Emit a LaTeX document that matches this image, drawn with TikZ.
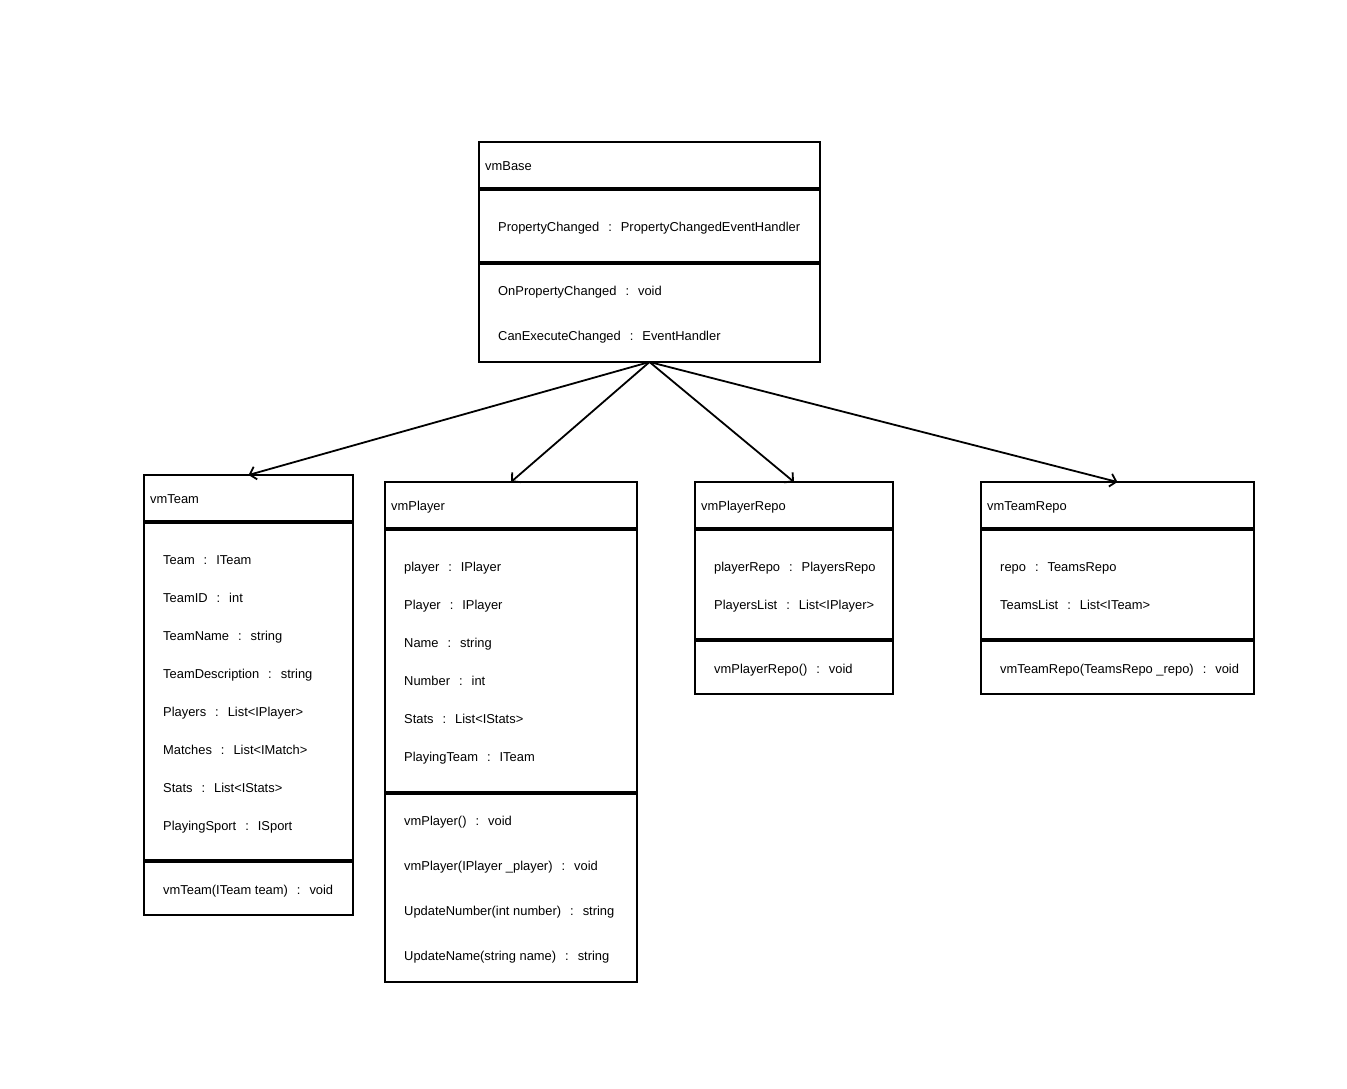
\documentclass[tikz,border=0pt]{standalone}
\usepackage{fontspec}
\setmainfont{Liberation Sans}
\usetikzlibrary{arrows.meta}
% member separator: "name  :  type"
\newcommand{\ofType}{\hspace{9pt}:\hspace{9pt}}
\begin{document}
\begin{tikzpicture}[x=1pt,y=-1pt,
  classbox/.style={draw=black, line width=2pt, fill=white, inner sep=0pt, outer sep=0pt, anchor=north west},
  rule/.style={line width=4pt},
  lbl/.style={anchor=base west, inner sep=0pt, font=\fontsize{12.9}{15}\selectfont},
  inherit/.style={line width=1.8pt, -{Straight Barb[length=6pt,width=13pt,line width=1.8pt]}}]
\useasboundingbox[fill=white] (0,0) rectangle (1347,1088);

% ---- vmBase
\node[classbox, minimum width=341pt, minimum height=220pt] (base) at (479,142) {};
\draw[rule] (479,189) -- (820,189);
\draw[rule] (479,263) -- (820,263);
\node[lbl] (baseT) at (485,170) {vmBase};
\node[lbl] (baseA1) at (498,231) {PropertyChanged\ofType PropertyChangedEventHandler};
\node[lbl] (baseM1) at (498,295) {OnPropertyChanged\ofType void};
\node[lbl] (baseM2) at (498,340) {CanExecuteChanged\ofType EventHandler};

% ---- vmTeam
\node[classbox, minimum width=209pt, minimum height=440pt] (team) at (144,475) {};
\draw[rule] (144,522) -- (353,522);
\draw[rule] (144,861) -- (353,861);
\node[lbl] (teamT) at (150,503) {vmTeam};
\node[lbl] (teamA1) at (163,564) {Team\ofType ITeam};
\node[lbl] (teamA2) at (163,602) {TeamID\ofType int};
\node[lbl] (teamA3) at (163,640) {TeamName\ofType string};
\node[lbl] (teamA4) at (163,678) {TeamDescription\ofType string};
\node[lbl] (teamA5) at (163,716) {Players\ofType List<IPlayer>};
\node[lbl] (teamA6) at (163,754) {Matches\ofType List<IMatch>};
\node[lbl] (teamA7) at (163,792) {Stats\ofType List<IStats>};
\node[lbl] (teamA8) at (163,830) {PlayingSport\ofType ISport};
\node[lbl] (teamM1) at (163,894) {vmTeam(ITeam team)\ofType void};

% ---- vmPlayer
\node[classbox, minimum width=252pt, minimum height=500pt] (player) at (385,482) {};
\draw[rule] (385,529) -- (637,529);
\draw[rule] (385,793) -- (637,793);
\node[lbl] (playerT) at (391,510) {vmPlayer};
\node[lbl] (playerA1) at (404,571) {player\ofType IPlayer};
\node[lbl] (playerA2) at (404,609) {Player\ofType IPlayer};
\node[lbl] (playerA3) at (404,647) {Name\ofType string};
\node[lbl] (playerA4) at (404,685) {Number\ofType int};
\node[lbl] (playerA5) at (404,723) {Stats\ofType List<IStats>};
\node[lbl] (playerA6) at (404,761) {PlayingTeam\ofType ITeam};
\node[lbl] (playerM1) at (404,825) {vmPlayer()\ofType void};
\node[lbl] (playerM2) at (404,870) {vmPlayer(IPlayer \_player)\ofType void};
\node[lbl] (playerM3) at (404,915) {UpdateNumber(int number)\ofType string};
\node[lbl] (playerM4) at (404,960) {UpdateName(string name)\ofType string};

% ---- vmPlayerRepo
\node[classbox, minimum width=198pt, minimum height=212pt] (prepo) at (695,482) {};
\draw[rule] (695,529) -- (893,529);
\draw[rule] (695,640) -- (893,640);
\node[lbl] (prepoT) at (701,510) {vmPlayerRepo};
\node[lbl] (prepoA1) at (714,571) {playerRepo\ofType PlayersRepo};
\node[lbl] (prepoA2) at (714,609) {PlayersList\ofType List<IPlayer>};
\node[lbl] (prepoM1) at (714,673) {vmPlayerRepo()\ofType void};

% ---- vmTeamRepo
\node[classbox, minimum width=273pt, minimum height=212pt] (trepo) at (981,482) {};
\draw[rule] (981,529) -- (1254,529);
\draw[rule] (981,640) -- (1254,640);
\node[lbl] (trepoT) at (987,510) {vmTeamRepo};
\node[lbl] (trepoA1) at (1000,571) {repo\ofType TeamsRepo};
\node[lbl] (trepoA2) at (1000,609) {TeamsList\ofType List<ITeam>};
\node[lbl] (trepoM1) at (1000,673) {vmTeamRepo(TeamsRepo \_repo)\ofType void};

% ---- inheritance arrows
\draw[inherit] (base.south) -- (team.north);
\draw[inherit] (base.south) -- (player.north);
\draw[inherit] (base.south) -- (prepo.north);
\draw[inherit] (base.south) -- (trepo.north);
\end{tikzpicture}
\end{document}
